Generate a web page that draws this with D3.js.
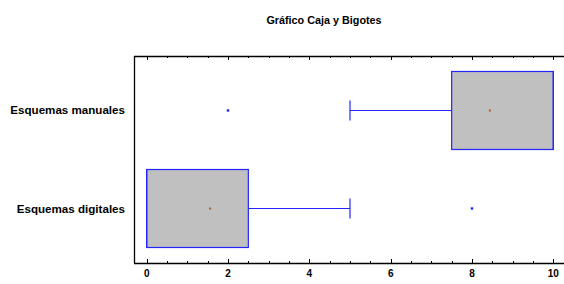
<!DOCTYPE html>
<html>
<head>
<meta charset="utf-8">
<script src="https://cdn.jsdelivr.net/npm/d3@7"></script>
<style>
  body { margin: 0; background: #fff; }
  text { font-family: "Liberation Sans", Arial, sans-serif; font-weight: bold; fill: #000; }
</style>
</head>
<body>
<div id="chart"></div>
<script>
// data
var categories = ['Esquemas manuales', 'Esquemas digitales'];
var whiskerLow = [5, 0];
var q1 = [7.5, 0];
var median = [10, 0];
var q3 = [10, 2.5];
var whiskerHigh = [10, 5];
var means = [8.44, 1.56];
var outliers = [[2], [8]];
var xTicks = [0, 2, 4, 6, 8, 10];

var width = 564, height = 284;
var margin = {top: 56, right: 0, bottom: 21, left: 134};

var svg = d3.select('#chart').append('svg')
    .attr('width', width)
    .attr('height', height);

svg.append('text')
    .attr('x', 324)
    .attr('y', 24)
    .attr('text-anchor', 'middle')
    .style('font-size', '10.8px')
    .text('Gráfico Caja y Bigotes');

// x scale: 0 at 146.7, 10 at 553.3
var x = d3.scaleLinear().domain([0, 10]).range([146.7, 553.3]);
var y = d3.scalePoint().domain(categories)
    .range([margin.top, height - margin.bottom])
    .padding(0.556);
var boxH = 78;

// axes lines (left, top, bottom)
var axisColor = '#000';
svg.append('line').attr('x1', margin.left + 0.5).attr('x2', margin.left + 0.5)
    .attr('y1', margin.top).attr('y2', height - margin.bottom + 0.5)
    .attr('stroke', axisColor).attr('stroke-width', 1.3);
svg.append('line').attr('x1', margin.left).attr('x2', width)
    .attr('y1', margin.top + 0.5).attr('y2', margin.top + 0.5)
    .attr('stroke', axisColor).attr('stroke-width', 1.3);
svg.append('line').attr('x1', margin.left).attr('x2', width)
    .attr('y1', height - margin.bottom + 0.5).attr('y2', height - margin.bottom + 0.5)
    .attr('stroke', axisColor).attr('stroke-width', 1.3);

// ticks, minor every 0.5
var minor = d3.range(0, 10.01, 0.5);
minor.forEach(function(v) {
    var major = xTicks.indexOf(v) >= 0;
    var len = major ? 4 : 2;
    svg.append('line').attr('x1', Math.round(x(v)) + 0.5).attr('x2', Math.round(x(v)) + 0.5)
        .attr('y1', height - margin.bottom).attr('y2', height - margin.bottom - len)
        .attr('stroke', axisColor);
    svg.append('line').attr('x1', Math.round(x(v)) + 0.5).attr('x2', Math.round(x(v)) + 0.5)
        .attr('y1', margin.top).attr('y2', margin.top + len)
        .attr('stroke', axisColor);
});

svg.selectAll('.xlab').data(xTicks).enter().append('text')
    .attr('class', 'xlab')
    .attr('x', function(d) { return x(d); })
    .attr('y', 277)
    .attr('text-anchor', 'middle')
    .style('font-size', '10px')
    .text(function(d) { return d; });

svg.selectAll('.ylab').data(categories).enter().append('text')
    .attr('class', 'ylab')
    .attr('x', 125)
    .attr('y', function(d) { return y(d) + 4; })
    .attr('text-anchor', 'end')
    .style('font-size', '11.6px')
    .text(function(d) { return d; });

var blue = '#2424ff';

categories.forEach(function(c, i) {
    var cy = y(c);
    // whiskers
    svg.append('line')
        .attr('x1', x(whiskerLow[i])).attr('x2', x(q1[i]))
        .attr('y1', cy).attr('y2', cy)
        .attr('stroke', blue).attr('stroke-width', 1.2);
    svg.append('line')
        .attr('x1', x(q3[i])).attr('x2', x(whiskerHigh[i]))
        .attr('y1', cy).attr('y2', cy)
        .attr('stroke', blue).attr('stroke-width', 1.2);
    if (whiskerLow[i] < q1[i]) {
        svg.append('line').attr('x1', x(whiskerLow[i])).attr('x2', x(whiskerLow[i]))
            .attr('y1', cy - 10).attr('y2', cy + 10)
            .attr('stroke', blue).attr('stroke-width', 1.2);
    }
    if (whiskerHigh[i] > q3[i]) {
        svg.append('line').attr('x1', x(whiskerHigh[i])).attr('x2', x(whiskerHigh[i]))
            .attr('y1', cy - 10).attr('y2', cy + 10)
            .attr('stroke', blue).attr('stroke-width', 1.2);
    }
    // box
    svg.append('rect')
        .attr('x', x(q1[i])).attr('y', cy - boxH / 2)
        .attr('width', x(q3[i]) - x(q1[i])).attr('height', boxH)
        .attr('fill', '#c0c0c0')
        .attr('stroke', blue).attr('stroke-width', 1.2);
    // median
    svg.append('line').attr('x1', x(median[i])).attr('x2', x(median[i]))
        .attr('y1', cy - boxH / 2).attr('y2', cy + boxH / 2)
        .attr('stroke', blue).attr('stroke-width', 1.2);
    // mean
    svg.append('rect')
        .attr('x', x(means[i]) - 1).attr('y', cy - 1)
        .attr('width', 2).attr('height', 2)
        .attr('fill', '#b05a28');
    // outliers
    outliers[i].forEach(function(o) {
        svg.append('rect')
            .attr('x', x(o) - 1.2).attr('y', cy - 1.2)
            .attr('width', 2.4).attr('height', 2.4)
            .attr('fill', blue);
    });
});
</script>
</body>
</html>
